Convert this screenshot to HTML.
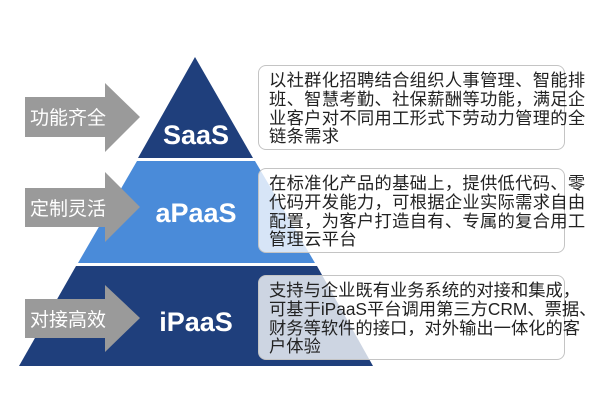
<!DOCTYPE html>
<html><head><meta charset="utf-8"><style>
body{margin:0;width:600px;height:414px;background:#fff;position:relative;overflow:hidden;font-family:"Liberation Sans","Noto Sans CJK SC",sans-serif}
.box{position:absolute;left:258px;width:307px;height:85px;padding:5px 0 0 10px;border:1px solid #c4c4c4;border-radius:8px;background:rgba(255,255,255,0.78);font-size:17.3px;line-height:18.8px;color:#222;box-sizing:border-box;white-space:nowrap;letter-spacing:0.3px}
</style></head><body>
<svg width="600" height="414" style="position:absolute;left:0;top:0">
<polygon points="195,57 253,158 138,158" fill="#1f3f7c"/>
<polygon points="137,161 255,161 315,263 78,263" fill="#4a8bd9"/>
<polygon points="76,266 317,266 373,366 19,366" fill="#1f3f7c"/>
<g fill="#9a9a9a">
<polygon points="25,97 105,97 105,83 140,117 105,152 105,137 25,137"/>
<polygon points="25,188 105,188 105,172 140,207 105,242 105,227 25,227"/>
<polygon points="25,299 105,299 105,285 140,318 105,352 105,338 25,338"/>
</g>
<g fill="#fff" font-family="Liberation Sans, Noto Sans CJK SC, sans-serif">
<text x="30" y="124" font-size="19">功能齐全</text>
<text x="30" y="215" font-size="19">定制灵活</text>
<text x="30" y="326" font-size="19">对接高效</text>
<text x="196" y="144" font-size="27" font-weight="bold" text-anchor="middle">SaaS</text>
<text x="196" y="222" font-size="27" font-weight="bold" text-anchor="middle">aPaaS</text>
<text x="196" y="331" font-size="27" font-weight="bold" text-anchor="middle">iPaaS</text>
</g>
</svg>
<div class="box" style="top:65px">以社群化招聘结合组织人事管理、智能排<br>班、智慧考勤、社保薪酬等功能，满足企<br>业客户对不同用工形式下劳动力管理的全<br>链条需求</div>
<div class="box" style="top:168px">在标准化产品的基础上，提供低代码、零<br>代码开发能力，可根据企业实际需求自由<br>配置，为客户打造自有、专属的复合用工<br>管理云平台</div>
<div class="box" style="top:275px;letter-spacing:0">支持与企业既有业务系统的对接和集成，<br>可基于iPaaS平台调用第三方CRM、票据、<br>财务等软件的接口，对外输出一体化的客<br>户体验</div>
</body></html>
